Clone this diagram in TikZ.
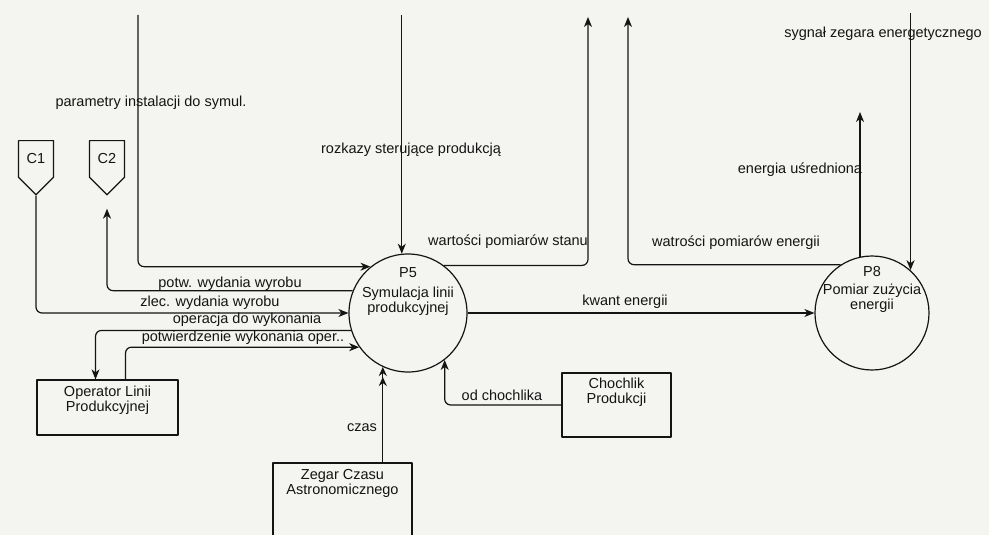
\documentclass[tikz,border=0pt]{standalone}
\usepackage{fontspec}
\setmainfont{Liberation Sans}
\usetikzlibrary{arrows.meta,shapes.symbols,positioning}
\definecolor{paper}{RGB}{244,245,240}
\definecolor{ink}{RGB}{20,20,20}
\tikzset{
	proc/.style={draw, circle, minimum size=118pt, inner sep=0pt},
	ext/.style={draw, rectangle, inner sep=0pt},
	conn/.style={draw, signal, signal to=south, minimum width=35pt, minimum height=48pt, inner sep=2pt},
	flow/.style={->, rounded corners=6pt},
	lab/.style={inner sep=0pt, align=center},
	flowlab/.style={inner sep=0pt, text height=10pt, text depth=3pt},
}
\begin{document}
\begin{tikzpicture}[x=1pt, y=-1pt, line width=1.2pt, line join=round, color=ink,
		>={Stealth[length=10pt,width=8pt,inset=3pt]}, font=\fontsize{14.5}{15}\selectfont]
	\useasboundingbox[fill=paper] (0,0) rectangle (989,535);
	% procesy
	\node[proc] (P5) at (408,313) {};
	\node[lab, yshift=21pt] at (P5.center) {P5\\[5pt]Symulacja linii\\produkcyjnej};
	\node[proc, minimum size=114pt] (P8) at (872,313) {};
	\node[lab, yshift=24pt] at (P8.center) {P8\\[3pt]Pomiar zużycia\\energii};
	% terminatory
	\node[ext, minimum width=141pt, minimum height=55pt,
		label={[lab, anchor=north, yshift=-6pt]north:Operator Linii\\Produkcyjnej}] (op) at (107.5,407.5) {};
	\node[ext, minimum width=139pt, minimum height=97pt,
		label={[lab, anchor=north, yshift=-6pt]north:Zegar Czasu\\Astronomicznego}] (zeg) at (342.5,511.5) {};
	\node[ext, minimum width=109pt, minimum height=64pt,
		label={[lab, anchor=north, yshift=-5pt]north:Chochlik\\Produkcji}] (ch) at (616.5,405) {};
	\node[conn, anchor=north] (C1) at (36,140) {C1};
	\node[conn, anchor=north] (C2) at (107,140) {C2};
	% przeplywy
	\coordinate (topY) at (0,15);
	\coordinate (parIn) at (138,15);
	\coordinate (stanOut) at (588,17);
	\coordinate (enOut) at (628,17);
	\coordinate (avgY) at (0,112);
	\coordinate (sygY) at (0,13);
	\draw[flow] (parIn) |- (P5.129);
	\draw[flow] (P5.96 |- topY) -- (P5.96);
	\draw[flow] (P5.53) -| (stanOut);
	\draw[flow] (P8.123) -| (enOut);
	\draw[flow] (P8.102) -- (P8.102 |- avgY);
	\draw[flow] (P8.48 |- sygY) -- (P8.48);
	\draw[flow] (P5.east) -- (P8.west);
	\draw[flow, shorten >=13pt] (P5.158) -| (C2.south);
	\draw[flow] (C1.south) |- (P5.west);
	\draw[flow] (P5.197) -| ([xshift=-12pt]op.north);
	\draw[flow] ([xshift=18pt]op.north) |- (P5.215);
	\draw[-{Stealth[length=9pt,width=8pt,inset=3pt,sep=1pt]Stealth[length=9pt,width=8pt,inset=3pt]}]
		(P5.245 |- zeg.north) -- (P5.245);
	\draw[flow] (ch.west) -| (P5.308);
	% etykiety
	\path
	(151,103) node[flowlab] {parametry instalacji do symul.}
	(411,150) node[flowlab] {rozkazy sterujące produkcją}
	(508,242) node[flowlab] {wartości pomiarów stanu}
	(736,243) node[flowlab] {watrości pomiarów energii}
	(800,170) node[flowlab] {energia uśredniona}
	(883,34) node[flowlab] {sygnał zegara energetycznego}
	(625,302) node[flowlab] {kwant energii}
	(230,284) node[flowlab] {potw. wydania wyrobu}
	(210,303) node[flowlab] {zlec. wydania wyrobu}
	(247,320) node[flowlab] {operacja do wykonania}
	(243,338) node[flowlab] {potwierdzenie wykonania oper..}
	(502,397) node[flowlab] {od chochlika}
	(362,428) node[flowlab] {czas}
	;
\end{tikzpicture}
\end{document}
